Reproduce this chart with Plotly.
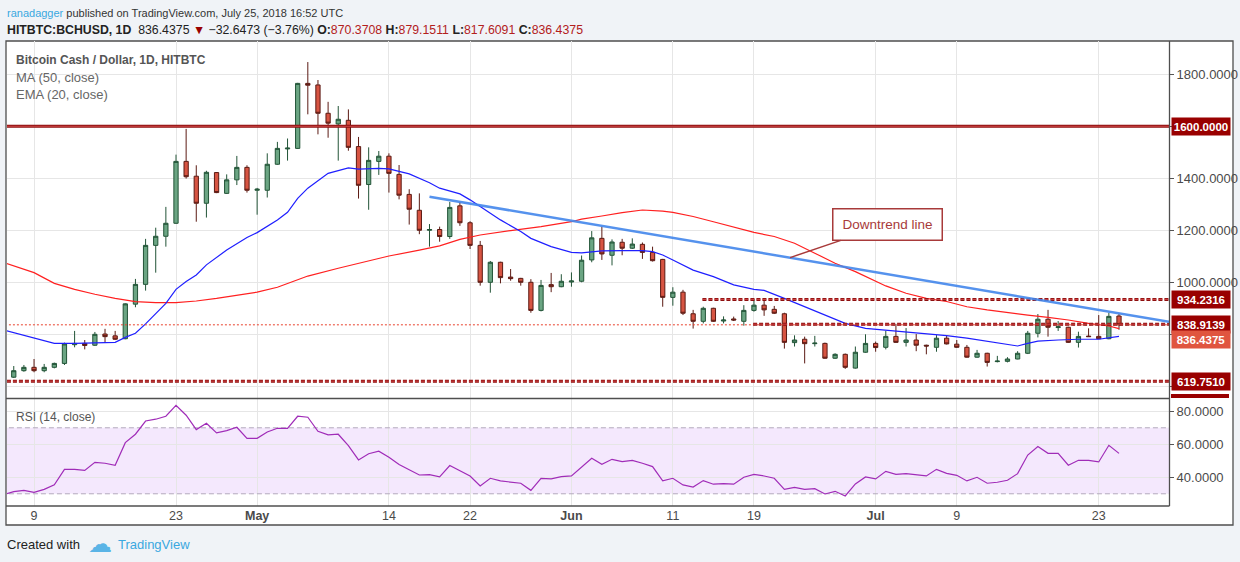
import pandas as pd
import plotly.graph_objects as go

W, H = 1240, 562
FONT = "Liberation Sans, Arial, sans-serif"

# daily candles, Apr 7 .. Jul 25 2018
candle_dates = pd.date_range("2018-04-07", "2018-07-25", freq="D")
opens = [635, 660, 673, 660, 673, 688, 760, 765, 758, 801, 794, 783, 916, 992, 1142, 1177, 1227, 1465, 1408, 1304,
         1422, 1342, 1394, 1442, 1354, 1354, 1454, 1513, 1515, 1765, 1759, 1650, 1609, 1623, 1522, 1376, 1465, 1485,
         1415, 1338, 1277, 1200, 1203, 1176, 1294, 1229, 1142, 1000, 1077, 1020, 1015, 1000, 892, 991, 983, 1001, 1004,
         1086, 1169, 1104, 1154, 1131, 1146, 1115, 1088, 942, 962, 879, 850, 900, 851, 859, 850, 892, 912, 896, 879,
         768, 781, 764, 765, 708, 723, 670, 731, 765, 750, 792, 769, 778, 758, 750, 785, 762, 750, 712, 727, 695, 696,
         705, 727, 804, 858, 826, 827, 769, 793, 792, 783, 870.3708]
highs = [678, 682, 705, 686, 691, 768, 813, 778, 809, 821, 813, 919, 1013, 1167, 1210, 1290, 1491, 1590, 1450, 1429,
         1424, 1415, 1486, 1450, 1363, 1496, 1540, 1553, 1767, 1847, 1778, 1694, 1678, 1665, 1559, 1519, 1505, 1496,
         1451, 1358, 1342, 1224, 1214, 1309, 1309, 1235, 1159, 1082, 1079, 1051, 1017, 1012, 1009, 1036, 1031, 1038,
         1103, 1197, 1214, 1165, 1167, 1169, 1153, 1137, 1090, 981, 971, 894, 906, 902, 869, 868, 912, 936, 929, 909,
         883, 796, 791, 794, 768, 727, 726, 753, 800, 772, 813, 840, 824, 801, 760, 797, 795, 778, 759, 740, 729, 717,
         712, 735, 813, 878, 894, 851, 829, 810, 823, 874, 883, 879.1511]
lows = [632, 656, 654, 654, 669, 682, 750, 742, 755, 769, 778, 781, 904, 968, 1037, 1137, 1225, 1399, 1233, 1249,
        1343, 1340, 1374, 1345, 1260, 1326, 1452, 1468, 1513, 1646, 1569, 1556, 1468, 1506, 1322, 1279, 1413, 1345,
        1319, 1222, 1185, 1137, 1156, 1167, 1217, 1128, 987, 960, 996, 1006, 987, 883, 888, 962, 981, 983, 1000, 1077,
        1086, 1065, 1104, 1128, 1090, 1080, 906, 910, 874, 822, 842, 848, 842, 851, 833, 887, 871, 878, 745, 753, 688,
        753, 706, 705, 667, 668, 729, 733, 742, 767, 753, 735, 723, 733, 761, 748, 710, 710, 676, 692, 692, 704, 724,
        788, 791, 813, 767, 749, 790, 782, 781, 817.6091]
closes = [660, 673, 660, 673, 688, 763, 765, 757, 800, 791, 781, 917, 992, 1142, 1177, 1227, 1465, 1406, 1304, 1423,
          1345, 1394, 1442, 1354, 1358, 1454, 1515, 1516, 1765, 1758, 1650, 1612, 1627, 1519, 1373, 1469, 1485, 1419,
          1335, 1281, 1200, 1203, 1176, 1288, 1229, 1142, 1000, 1077, 1018, 1014, 1000, 892, 988, 983, 1004, 1005, 1085,
          1171, 1109, 1155, 1131, 1147, 1115, 1083, 942, 962, 881, 850, 900, 850, 855, 855, 892, 912, 894, 881, 769,
          778, 764, 766, 708, 723, 673, 731, 765, 749, 792, 769, 778, 758, 755, 785, 763, 750, 712, 727, 692, 697, 705,
          727, 804, 858, 827, 829, 769, 792, 791, 783, 869, 836.4375]

ema20_dates = ["2018-04-06", "2018-04-11", "2018-04-13", "2018-04-17", "2018-04-18", "2018-04-19", "2018-04-20",
               "2018-04-22", "2018-04-23", "2018-04-24", "2018-04-25", "2018-04-26", "2018-04-28", "2018-04-30",
               "2018-05-01", "2018-05-03", "2018-05-04", "2018-05-05", "2018-05-06", "2018-05-08", "2018-05-10",
               "2018-05-11", "2018-05-13", "2018-05-14", "2018-05-16", "2018-05-18", "2018-05-19", "2018-05-21",
               "2018-05-22", "2018-05-23", "2018-05-25", "2018-05-27", "2018-05-28", "2018-05-30", "2018-06-01",
               "2018-06-02", "2018-06-04", "2018-06-06", "2018-06-08", "2018-06-09", "2018-06-10", "2018-06-11",
               "2018-06-13", "2018-06-15", "2018-06-17", "2018-06-19", "2018-06-20", "2018-06-22", "2018-06-24",
               "2018-06-26", "2018-06-28", "2018-06-30", "2018-07-03", "2018-07-05", "2018-07-08", "2018-07-10",
               "2018-07-12", "2018-07-14", "2018-07-15", "2018-07-16", "2018-07-17", "2018-07-19", "2018-07-21",
               "2018-07-23", "2018-07-24", "2018-07-25"]
ema20 = [817, 765, 765, 769, 788, 804, 840, 919, 973, 1003, 1028, 1067, 1124, 1172, 1191, 1240, 1269, 1323, 1362,
         1419, 1440, 1435, 1438, 1436, 1417, 1383, 1362, 1340, 1317, 1291, 1240, 1195, 1169, 1137, 1115, 1113, 1121,
         1122, 1122, 1118, 1105, 1086, 1047, 1022, 990, 973, 969, 938, 906, 874, 842, 823, 813, 804, 795, 785, 772,
         759, 755, 765, 774, 778, 781, 781, 787, 792]

ma50_dates = ["2018-04-06", "2018-04-09", "2018-04-11", "2018-04-13", "2018-04-15", "2018-04-17", "2018-04-19",
              "2018-04-21", "2018-04-23", "2018-04-25", "2018-04-27", "2018-04-29", "2018-05-01", "2018-05-03",
              "2018-05-05", "2018-05-06", "2018-05-09", "2018-05-11", "2018-05-14", "2018-05-17", "2018-05-19",
              "2018-05-21", "2018-05-23", "2018-05-26", "2018-05-29", "2018-06-01", "2018-06-02", "2018-06-04",
              "2018-06-06", "2018-06-08", "2018-06-10", "2018-06-11", "2018-06-13", "2018-06-15", "2018-06-17",
              "2018-06-19", "2018-06-21", "2018-06-23", "2018-06-25", "2018-06-27", "2018-06-29", "2018-07-01",
              "2018-07-02", "2018-07-04", "2018-07-06", "2018-07-08", "2018-07-10", "2018-07-12", "2018-07-14",
              "2018-07-16", "2018-07-18", "2018-07-20", "2018-07-22", "2018-07-24", "2018-07-25"]
ma50 = [1076, 1037, 996, 973, 954, 938, 926, 922, 922, 928, 938, 951, 962, 981, 1010, 1024, 1054, 1073, 1101, 1124,
        1140, 1165, 1182, 1199, 1214, 1233, 1243, 1255, 1268, 1278, 1274, 1269, 1253, 1233, 1212, 1192, 1176, 1150,
        1112, 1073, 1041, 1005, 986, 958, 938, 926, 906, 894, 883, 874, 865, 855, 842, 832, 822]

# RSI(14), Apr 6 .. Jul 25
rsi_dates = pd.date_range("2018-04-06", "2018-07-25", freq="D")
rsi = [29.5, 31.3, 32.1, 30.9, 32.7, 35.4, 44.8, 44.8, 44.2, 49.1, 48.5, 47.3, 61.0, 66.1, 74.1, 75.2, 77.0, 83.6,
       77.6, 68.9, 72.7, 66.9, 68.3, 70.3, 63.6, 63.6, 67.5, 69.7, 69.7, 77.0, 76.4, 67.9, 65.7, 66.1, 59.2, 50.5,
       54.3, 55.8, 52.1, 47.7, 44.6, 41.4, 41.6, 40.2, 47.1, 43.8, 40.8, 34.7, 39.4, 37.8, 37.0, 36.4, 32.1, 39.4,
       39.0, 40.4, 40.8, 46.1, 51.5, 47.9, 50.9, 49.5, 50.3, 48.5, 46.5, 37.8, 39.4, 35.4, 34.1, 38.0, 35.8, 36.2,
       35.8, 40.0, 41.8, 40.8, 39.4, 32.7, 33.9, 32.7, 33.1, 29.9, 31.5, 28.7, 36.0, 40.2, 39.0, 43.6, 41.8, 42.2,
       41.4, 40.8, 44.8, 42.4, 41.2, 37.8, 40.0, 36.4, 37.0, 38.2, 42.2, 53.5, 58.6, 54.5, 54.5, 47.3, 50.3, 50.3,
       49.3, 59.4, 54.5]
rsi_band = [70, 30]

# drawn levels and trend line
levels = [1600.0, 934.2316, 838.9139, 619.7510]
level_starts = ["2018-04-01", "2018-06-13 22:00", "2018-06-18 22:00", "2018-04-01"]
last_price = 836.4375
trend_x = ["2018-05-18", "2018-07-29 22:20"]
trend_y = [1329, 848]

tick_dates = ["2018-04-09", "2018-04-23", "2018-05-01", "2018-05-14", "2018-05-22", "2018-06-01",
              "2018-06-11", "2018-06-19", "2018-07-01", "2018-07-09", "2018-07-23"]
tick_text = ["9", "23", "<b>May</b>", "14", "22", "<b>Jun</b>", "11", "19", "<b>Jul</b>", "9", "23"]
price_ticks = [600, 800, 1000, 1200, 1400, 1600, 1800]
price_tick_text = ["", "", "1000.0000", "1200.0000", "1400.0000", "", "1800.0000"]  # others sit under labels
rsi_ticks = [40, 60, 80]

x_range = ["2018-04-06 08:00", "2018-07-29 22:20"]


def px(x):
    return x / W


def py(y):
    return 1 - y / H


fig = go.Figure()

fig.add_trace(go.Candlestick(
    x=candle_dates, open=opens, high=highs, low=lows, close=closes,
    increasing=dict(line=dict(color="#225437", width=1), fillcolor="#6ba583"),
    decreasing=dict(line=dict(color="#5b1a13", width=1), fillcolor="#d75442"),
    whiskerwidth=0, showlegend=False, xaxis="x", yaxis="y",
))

fig.add_trace(go.Scatter(x=ma50_dates, y=ma50, mode="lines", line=dict(color="#ff2020", width=1.2),
                         showlegend=False, xaxis="x", yaxis="y"))
fig.add_trace(go.Scatter(x=ema20_dates, y=ema20, mode="lines", line=dict(color="#1f1fff", width=1.2),
                         showlegend=False, xaxis="x", yaxis="y"))

# last price dotted line
fig.add_trace(go.Scatter(x=["2018-04-01", "2018-08-05"], y=[last_price, last_price], mode="lines",
                         line=dict(color="#e8412c", width=1, dash="2px,2px"), showlegend=False,
                         xaxis="x", yaxis="y"))

# horizontal levels (first one solid, the rest dashed)
for i, (lv, st) in enumerate(zip(levels, level_starts)):
    dash = "solid" if i == 0 else "4px,2px"
    fig.add_trace(go.Scatter(x=[st, "2018-08-05"], y=[lv, lv], mode="lines",
                             line=dict(color="#8e0e0e", width=3, dash=dash), showlegend=False,
                             xaxis="x", yaxis="y"))
    fig.add_trace(go.Scatter(x=[st, "2018-08-05"], y=[lv, lv], mode="lines",
                             line=dict(color="#e05555", width=0.8, dash=dash), showlegend=False,
                             xaxis="x", yaxis="y"))

fig.add_trace(go.Scatter(x=trend_x, y=trend_y, mode="lines", line=dict(color="rgba(66,134,235,0.9)", width=2.5),
                         showlegend=False, xaxis="x", yaxis="y"))

# RSI panel
for b in rsi_band:
    fig.add_trace(go.Scatter(x=["2018-04-01", "2018-08-05"], y=[b, b], mode="lines",
                             line=dict(color="#b3a9bd", width=1, dash="5px,3px"), showlegend=False,
                             xaxis="x2", yaxis="y2"))
fig.add_trace(go.Scatter(x=rsi_dates, y=rsi, mode="lines", line=dict(color="#a02cb8", width=1.2),
                         showlegend=False, xaxis="x2", yaxis="y2"))

grid = "#e6e6e6"
tickfont = dict(family=FONT, size=13, color="#4a4a4a")

fig.update_layout(
    width=W, height=H,
    margin=dict(l=0, r=0, t=0, b=0),
    paper_bgcolor="#f0f3f7",
    plot_bgcolor="rgba(0,0,0,0)",
    font=dict(family=FONT),
    showlegend=False,
    boxgap=0.4,
    hovermode=False,
    xaxis=dict(domain=[px(7), px(1169)], range=x_range, type="date", anchor="y",
               tickvals=tick_dates, showticklabels=False, showgrid=True, gridcolor=grid,
               zeroline=False, rangeslider=dict(visible=False), fixedrange=True),
    xaxis2=dict(domain=[px(7), px(1169)], range=x_range, type="date", anchor="y2", matches="x",
                tickvals=tick_dates, ticktext=tick_text, showgrid=True, gridcolor=grid,
                tickfont=dict(family=FONT, size=12.5, color="#4a4a4a"), zeroline=False, ticks=""),
    yaxis=dict(domain=[py(398), py(41)], range=[555, 1928], side="right", anchor="x",
               tickvals=price_ticks, ticktext=price_tick_text, tickfont=tickfont,
               showgrid=True, gridcolor=grid, zeroline=False, ticks="outside", ticklen=4,
               tickcolor="#555555"),
    yaxis2=dict(domain=[py(506), py(399)], range=[22.6, 87.45], side="right", anchor="x2",
                tickvals=rsi_ticks, ticktext=[f"{v:.4f}" for v in rsi_ticks], tickfont=tickfont,
                showgrid=True, gridcolor=grid, zeroline=False, ticks="outside", ticklen=4,
                tickcolor="#555555"),
)

frame = "#4f4f4f"
fig.add_shape(type="rect", xref="paper", yref="paper", x0=px(6), x1=px(1233), y0=py(525), y1=py(41),
              fillcolor="white", line=dict(color=frame, width=1.3), layer="below")
fig.add_shape(type="rect", xref="x2 domain", yref="y2", x0=0, x1=1, y0=rsi_band[1], y1=rsi_band[0],
              fillcolor="#f4e8fd", line=dict(width=0), layer="below")
for x0, y0, x1, y1 in [(6, 398.5, 1169.5, 398.5), (6, 506, 1169.5, 506), (1169.5, 41, 1169.5, 506)]:
    fig.add_shape(type="line", xref="paper", yref="paper", x0=px(x0), x1=px(x1), y0=py(y0), y1=py(y1),
                  line=dict(color=frame, width=1.3))
# hidden label peeking out under the RSI pane
fig.add_shape(type="rect", xref="paper", yref="paper", x0=px(1171), x1=px(1229), y0=py(398), y1=py(394),
              fillcolor="#990000", line=dict(width=0))

# price labels on the right axis
label_specs = [(1600.0, "#990000", 0), (934.2316, "#990000", 0), (838.9139, "#990000", 0),
               (last_price, "#e0553f", -15), (619.7510, "#990000", 0)]
for val, bg, shift in label_specs:
    fig.add_annotation(x=px(1171), xref="paper", y=val, yref="y", yshift=shift, text=f"<b>{val:.4f}</b>",
                       xanchor="left", yanchor="middle", showarrow=False, bgcolor=bg, width=56, height=15,
                       borderpad=1, font=dict(family=FONT, size=11.5, color="white"))

# callout
fig.add_annotation(x="2018-06-22 13:30", y=1095, xref="x", yref="y", text="Downtrend line",
                   showarrow=True, ax=97, ay=-33, arrowhead=0, arrowwidth=1.5, arrowcolor="#a83a3a",
                   bgcolor="white", bordercolor="#a83a3a", borderwidth=1.5, borderpad=5, width=98, height=20,
                   font=dict(family=FONT, size=13.5, color="#a83a3a"))


def text(x, y, s, size=14, color="#333333"):
    fig.add_annotation(x=px(x), y=py(y), xref="paper", yref="paper", text=s, showarrow=False,
                       xanchor="left", yanchor="middle", font=dict(family=FONT, size=size, color=color))


red = "#b3201c"
text(5, 13, "<span style='color:#3aa8e0'>ranadagger</span> published on TradingView.com, July 25, 2018 16:52 UTC",
     size=11)
text(5, 30, f"<b>HITBTC:BCHUSD, 1D</b>  836.4375 <span style='color:#990000'>▼</span> −32.6473 (−3.76%) "
            f"<b>O:</b><span style='color:{red}'>870.3708</span> <b>H:</b><span style='color:{red}'>879.1511</span> "
            f"<b>L:</b><span style='color:{red}'>817.6091</span> <b>C:</b><span style='color:{red}'>836.4375</span>",
     size=12.3, color="#222222")
text(14, 60, "<b>Bitcoin Cash / Dollar, 1D, HITBTC</b>", size=12, color="#555555")
text(14, 77, "MA (50, close)", size=13, color="#666666")
text(14, 94, "EMA (20, close)", size=13, color="#666666")
text(14, 417, "RSI (14, close)", size=12, color="#555555")
text(5, 544, "Created with", size=13, color="#222222")
text(86, 543, "☁", size=24, color="#5ab4e6")
text(116, 544, "TradingView", size=13, color="#3aa8e0")

fig.write_html("out.html", config={"displayModeBar": False},
               post_script="document.body.style.margin='0';")
